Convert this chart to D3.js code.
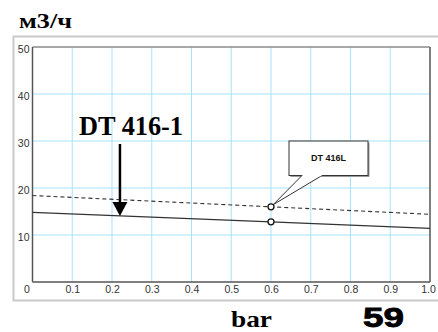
<!DOCTYPE html>
<html>
<head>
<meta charset="utf-8">
<script src="https://cdn.jsdelivr.net/npm/d3@7"></script>
<style>
  html, body { margin: 0; padding: 0; background: #fff; }
  svg { display: block; }
</style>
</head>
<body>
<svg id="chart" width="438" height="332"></svg>
<script>
// ---- data ----
const xTicks = [0, 0.1, 0.2, 0.3, 0.4, 0.5, 0.6, 0.7, 0.8, 0.9, 1.0];
const xTickLabels = ["0", "0.1", "0.2", "0.3", "0.4", "0.5", "0.6", "0.7", "0.8", "0.9", "1.0"];
const yTicks = [10, 20, 30, 40, 50];
const pressure = [0, 0.6, 1.0];
const flowDT4161 = [14.8, 12.8, 11.4];   // solid line
const flowDT416L = [18.4, 16.0, 14.4];   // dashed line
const markerPressure = 0.6;
const arrowPressure = 0.22;
const yUnit = "м3/ч";
const xUnit = "bar";
const label1 = "DT 416-1";
const label2 = "DT 416L";
const pageNumber = "59";

const SERIF = "'Liberation Serif', 'Times New Roman', serif";
const SANS = "'Liberation Sans', Arial, sans-serif";

const svg = d3.select("#chart");
const x = d3.scaleLinear().domain([0, 1]).range([32.5, 430]);
const y = d3.scaleLinear().domain([0, 50]).range([282, 47]);

// outer frame
svg.append("path")
  .attr("d", "M440,36.5 H13.5 V300.5 H440")
  .attr("fill", "none").attr("stroke", "#c9c9c9").attr("stroke-width", 2);

// grid
const grid = svg.append("g");
grid.selectAll("line.vx").data(xTicks.slice(1, -1)).join("line")
  .attr("x1", d => x(d)).attr("x2", d => x(d))
  .attr("y1", y(50)).attr("y2", y(0))
  .attr("stroke", "#a6e3fa").attr("stroke-width", 1);
grid.selectAll("line.hy").data(yTicks.slice(0, -1)).join("line")
  .attr("x1", x(0)).attr("x2", x(1))
  .attr("y1", d => y(d)).attr("y2", d => y(d))
  .attr("stroke", "#a6e3fa").attr("stroke-width", 1);

// plot border
svg.append("line").attr("x1", x(0)).attr("x2", x(1)).attr("y1", y(50)).attr("y2", y(50))
  .attr("stroke", "#8a8a8a").attr("stroke-width", 1.5);
svg.append("line").attr("x1", x(1)).attr("x2", x(1)).attr("y1", y(50)).attr("y2", y(0))
  .attr("stroke", "#555").attr("stroke-width", 1.5);
svg.append("line").attr("x1", x(0)).attr("x2", x(0)).attr("y1", y(50)).attr("y2", y(0))
  .attr("stroke", "#555").attr("stroke-width", 1.5);
svg.append("line").attr("x1", x(0)).attr("x2", x(1)).attr("y1", y(0)).attr("y2", y(0))
  .attr("stroke", "#555").attr("stroke-width", 1.5);

// x axis labels
const xAxis = d3.axisBottom(x).tickValues(xTicks).tickSize(0).tickPadding(0)
  .tickFormat((d, i) => xTickLabels[i]);
const gx = svg.append("g").attr("transform", `translate(0,${y(0) + 4})`).call(xAxis);
gx.select(".domain").remove();
gx.selectAll("text")
  .attr("font-family", SANS)
  .attr("font-size", 10.5).attr("fill", "#333").attr("dy", "0.71em")
  .attr("x", (d, i) => i === 0 ? -6 : (i === xTicks.length - 1 ? -2 : 0));

// y axis labels
const yAxis = d3.axisLeft(y).tickValues(yTicks).tickSize(0).tickPadding(3);
const gy = svg.append("g").attr("transform", `translate(${x(0)},0)`).call(yAxis);
gy.select(".domain").remove();
gy.selectAll("text")
  .attr("font-family", SANS)
  .attr("font-size", 10.5).attr("fill", "#333").attr("dy", "0.55em");

// lines
const line = d3.line().x(d => x(d[0])).y(d => y(d[1]));
svg.append("path").datum(pressure.map((p, i) => [p, flowDT416L[i]]))
  .attr("d", line).attr("fill", "none").attr("stroke", "#333")
  .attr("stroke-width", 1.1).attr("stroke-dasharray", "4,3");
svg.append("path").datum(pressure.map((p, i) => [p, flowDT4161[i]]))
  .attr("d", line).attr("fill", "none").attr("stroke", "#333")
  .attr("stroke-width", 1.2);

// callout box for DT 416L
const mi = pressure.indexOf(markerPressure);
const px = x(markerPressure), py = y(flowDT416L[mi]);
const bx = 289, by = 141, bw = 79, bh = 34.5;
svg.append("rect").attr("x", bx + 1.5).attr("y", by + 1.5).attr("width", bw).attr("height", bh)
  .attr("fill", "#9a9a9a");
svg.append("rect").attr("x", bx).attr("y", by).attr("width", bw).attr("height", bh)
  .attr("fill", "#fff").attr("stroke", "#333").attr("stroke-width", 1);
svg.append("path")
  .attr("d", `M${bx + 13},${by + bh} L${px + 2},${py - 2} L${bx + 33},${by + bh}`)
  .attr("fill", "#fff").attr("stroke", "#333").attr("stroke-width", 1);
svg.append("line").attr("x1", bx + 13.5).attr("x2", bx + 32.5)
  .attr("y1", by + bh).attr("y2", by + bh).attr("stroke", "#fff").attr("stroke-width", 1.5);
svg.append("text").attr("x", bx + bw / 2).attr("y", by + 20)
  .attr("text-anchor", "middle")
  .attr("font-family", SANS)
  .attr("font-weight", "bold").attr("font-size", 9).attr("fill", "#111")
  .text(label2);

// markers
svg.selectAll("circle.m").data([flowDT416L[mi], flowDT4161[mi]]).join("circle")
  .attr("cx", px).attr("cy", d => y(d)).attr("r", 3)
  .attr("fill", "#fff").attr("stroke", "#111").attr("stroke-width", 1.3);

// arrow for DT 416-1
const ai = d3.interpolate(flowDT4161[0], flowDT4161[1]);
const ax = x(arrowPressure), ay = y(ai(arrowPressure / pressure[1]));
svg.append("line").attr("x1", ax).attr("x2", ax).attr("y1", 144).attr("y2", ay - 12)
  .attr("stroke", "#000").attr("stroke-width", 2.5);
svg.append("path")
  .attr("d", `M${ax - 7.5},${ay - 14} L${ax + 7.5},${ay - 14} L${ax},${ay} Z`)
  .attr("fill", "#000");
svg.append("text").attr("x", 79).attr("y", 134.5)
  .attr("font-family", SERIF)
  .attr("font-weight", "bold").attr("font-size", 26.5).attr("fill", "#000")
  .attr("textLength", 104).attr("lengthAdjust", "spacingAndGlyphs")
  .text(label1);

// titles
svg.append("text").attr("x", 19).attr("y", 28)
  .attr("font-family", SERIF)
  .attr("font-weight", "bold").attr("font-size", 22).attr("fill", "#000")
  .attr("textLength", 53).attr("lengthAdjust", "spacingAndGlyphs")
  .text(yUnit);
svg.append("text").attr("x", 231).attr("y", 326.5)
  .attr("font-family", SERIF)
  .attr("font-weight", "bold").attr("font-size", 24).attr("fill", "#000")
  .attr("textLength", 41).attr("lengthAdjust", "spacingAndGlyphs")
  .text(xUnit);
svg.append("text").attr("x", 363).attr("y", 326.5)
  .attr("font-family", SANS)
  .attr("font-weight", "bold").attr("font-size", 27).attr("fill", "#000")
  .attr("textLength", 41).attr("lengthAdjust", "spacingAndGlyphs")
  .attr("stroke", "#000").attr("stroke-width", 0.8)
  .text(pageNumber);
</script>
</body>
</html>
